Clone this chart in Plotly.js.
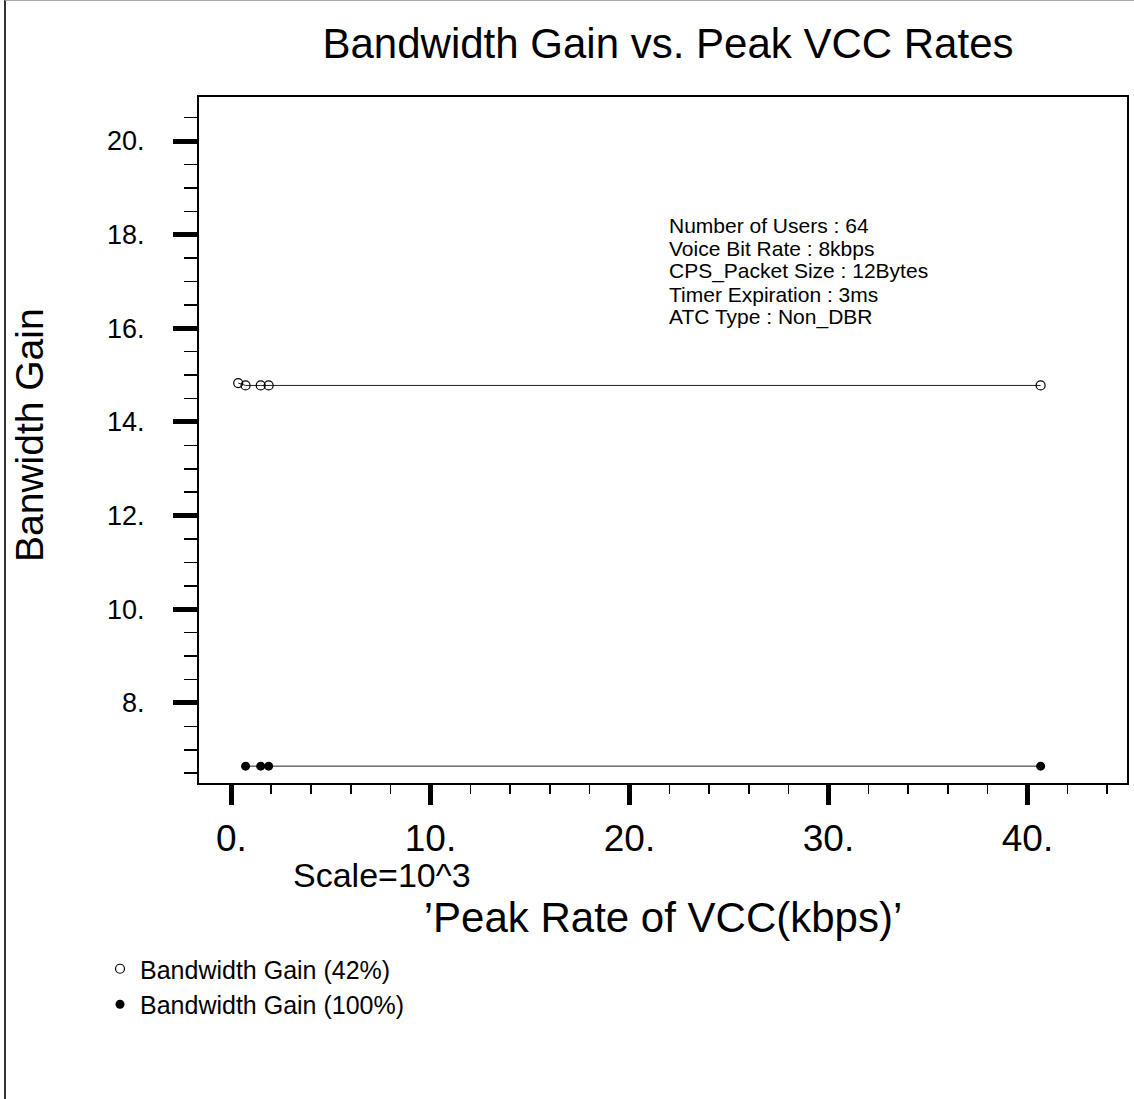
<!DOCTYPE html>
<html>
<head>
<meta charset="utf-8">
<script src="https://cdn.plot.ly/plotly-3.0.1.min.js"></script>
<style>
  html, body { margin: 0; padding: 0; background: #ffffff; }
  #wrap { position: relative; width: 1134px; height: 1099px; }
  #chart { position: absolute; left: 0; top: 0; width: 1134px; height: 1099px; }
  #frame {
    position: absolute; left: 4px; top: 0; width: 1130px; height: 1099px;
    box-sizing: border-box; border-left: 2px solid #333333; border-top: 1px solid #aaaaaa;
    pointer-events: none;
  }
</style>
</head>
<body>
<div id="wrap">
  <div id="chart"></div>
  <div id="frame"></div>
</div>
<script>
// Peak VCC rate (x 10^3 kbps) and bandwidth gain for the two utilisation cases
const peakRate42 = [0.34, 0.71, 1.47, 1.87, 40.66];
const gain42     = [14.83, 14.78, 14.78, 14.78, 14.78];
const peakRate100 = [0.71, 1.47, 1.87, 40.66];
const gain100     = [6.65, 6.65, 6.65, 6.65];

const seriesNames = ['Bandwidth Gain (42%)', 'Bandwidth Gain (100%)'];

// Axis ticks
const xTickVals = [0, 10, 20, 30, 40];
const xTickText = ['0.', '10.', '20.', '30.', '40.'];
const yTickVals = [8, 10, 12, 14, 16, 18, 20];
const yTickText = ['8.', '10.', '12.', '14.', '16.', '18.', '20.'];

// Simulation parameters shown inside the plot
const infoLines = [
  'Number of Users : 64',
  'Voice Bit Rate : 8kbps',
  'CPS_Packet Size : 12Bytes',
  'Timer Expiration : 3ms',
  'ATC Type : Non_DBR'
];

const FONT = 'Liberation Sans, Arial, Helvetica, sans-serif';

const openMarker = { symbol: 'circle-open', size: 9, color: '#000000', line: { width: 1.2, color: '#000000' } };
const filledMarker = { symbol: 'circle', size: 9, color: '#000000' };

const traces = [
  {
    x: peakRate42, y: gain42, type: 'scatter', mode: 'lines+markers',
    line: { color: '#222222', width: 1 }, marker: openMarker,
    name: seriesNames[0], showlegend: false
  },
  {
    x: peakRate100, y: gain100, type: 'scatter', mode: 'lines+markers',
    line: { color: '#222222', width: 1 }, marker: filledMarker,
    name: seriesNames[1], showlegend: false
  },
  // legend keys show the marker only
  { x: [null], y: [null], type: 'scatter', mode: 'markers', marker: openMarker, name: seriesNames[0] },
  { x: [null], y: [null], type: 'scatter', mode: 'markers', marker: filledMarker, name: seriesNames[1] }
];

// plot area: left 199, top 97, width 928, height 686
const PL = 199, PT = 97, PW = 928, PH = 686;
const px2paperX = (px) => (px - PL) / PW;
const px2paperY = (py) => (PT + PH - py) / PH;

const infoY = [225, 248, 271, 294, 317];
const annotations = infoLines.map((t, i) => ({
  text: t, xref: 'paper', yref: 'paper',
  x: px2paperX(667), y: px2paperY(infoY[i]),
  xanchor: 'left', yanchor: 'middle', showarrow: false,
  font: { family: FONT, size: 21, color: '#000000' }
}));
annotations.push({
  text: 'Scale=10^3', xref: 'paper', yref: 'paper',
  x: px2paperX(291), y: px2paperY(875),
  xanchor: 'left', yanchor: 'middle', showarrow: false,
  font: { family: FONT, size: 34, color: '#000000' }
});
// vertical axis title
annotations.push({
  text: 'Banwidth Gain', xref: 'paper', yref: 'paper',
  x: px2paperX(29), y: px2paperY(435),
  xanchor: 'center', yanchor: 'middle', textangle: -90, showarrow: false,
  font: { family: FONT, size: 39, color: '#000000' }
});

const layout = {
  width: 1134, height: 1099,
  margin: { l: PL, r: 1134 - PL - PW, t: PT, b: 1099 - PT - PH, autoexpand: false },
  paper_bgcolor: '#ffffff', plot_bgcolor: '#ffffff',
  font: { family: FONT, color: '#000000' },
  title: {
    text: 'Bandwidth Gain vs. Peak VCC Rates',
    font: { family: FONT, size: 42, color: '#000000' },
    xref: 'container', x: 668 / 1134, xanchor: 'center',
    yref: 'container', y: 1 - 43 / 1099, yanchor: 'middle'
  },
  xaxis: {
    range: [-1.63, 45.0], automargin: false,
    tickmode: 'array', tickvals: xTickVals, ticktext: xTickText,
    ticks: 'outside', ticklen: 20, tickwidth: 5, tickcolor: '#000000',
    tickfont: { family: FONT, size: 37, color: '#000000' },
    ticklabelstandoff: 2,
    showline: true, linewidth: 2, linecolor: '#000000', mirror: true,
    showgrid: false, zeroline: false,
    minor: { tickmode: 'linear', tick0: 0, dtick: 2, ticks: 'outside', ticklen: 9, tickwidth: 1.5, tickcolor: '#000000', showgrid: false },
    title: { text: '\u2019Peak Rate of VCC(kbps)\u2019', font: { family: FONT, size: 42, color: '#000000' }, standoff: 44 }
  },
  yaxis: {
    range: [6.29, 20.94], automargin: false,
    tickmode: 'array', tickvals: yTickVals, ticktext: yTickText,
    ticks: 'outside', ticklen: 24, tickwidth: 5, tickcolor: '#000000',
    tickfont: { family: FONT, size: 27, color: '#000000' },
    ticklabelstandoff: 23,
    showline: true, linewidth: 2, linecolor: '#000000', mirror: true,
    showgrid: false, zeroline: false,
    minor: { tickmode: 'linear', tick0: 0, dtick: 0.5, ticks: 'outside', ticklen: 13, tickwidth: 1.5, tickcolor: '#000000', showgrid: false }
  },
  legend: {
    xref: 'container', yref: 'container',
    x: 100 / 1134, y: 1 - 946 / 1099, xanchor: 'left', yanchor: 'top',
    bgcolor: 'rgba(0,0,0,0)', borderwidth: 0,
    font: { family: FONT, size: 25, color: '#000000' },
    tracegroupgap: 0
  },
  annotations: annotations
};

Plotly.newPlot('chart', traces, layout, { displayModeBar: false, staticPlot: true });
</script>
</body>
</html>
